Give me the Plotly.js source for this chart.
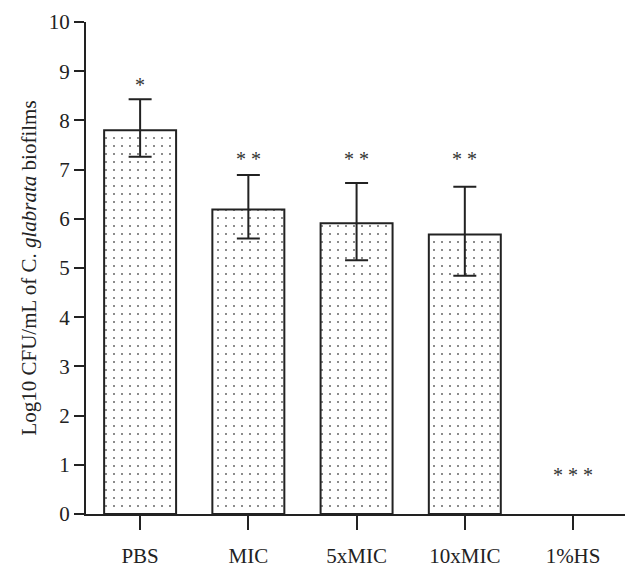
<!DOCTYPE html>
<html>
<head>
<meta charset="utf-8">
<script src="https://cdn.plot.ly/plotly-3.0.1.min.js"></script>
<style>
  html, body { margin: 0; padding: 0; background: #ffffff; }
  #chart { width: 639px; height: 570px; }
</style>
</head>
<body>
<div id="chart"></div>
<script>
const groups = ["PBS", "MIC", "5xMIC", "10xMIC", "1%HS"];
// 1%HS: no growth, no bar drawn
const meanLog = [7.80, 6.19, 5.91, 5.68, null];
const upperLog = [8.43, 6.89, 6.73, 6.65, null];
const lowerLog = [7.26, 5.60, 5.16, 4.84, null];
const starLabels = ["*", "* *", "* *", "* *", "* * *"];
const starHeight = [8.72, 7.22, 7.22, 7.22, 0.79];

const errPlus = meanLog.map((m, i) => (upperLog[i] === null ? null : upperLog[i] - m));
const errMinus = meanLog.map((m, i) => (lowerLog[i] === null ? null : m - lowerLog[i]));

const ink = "#222222";
const serif = "Liberation Serif, Times New Roman, serif";
const font = { family: serif, size: 21, color: ink };

Plotly.newPlot(
  "chart",
  [
    {
      type: "bar",
      x: groups,
      y: meanLog,
      width: 0.665,
      marker: {
        color: "#ffffff",
        line: { color: ink, width: 2 },
        pattern: { shape: ".", size: 8, solidity: 0.05, fgcolor: "#666666", bgcolor: "#ffffff" },
      },
      error_y: {
        type: "data",
        symmetric: false,
        array: errPlus,
        arrayminus: errMinus,
        color: ink,
        thickness: 2,
        width: 11.5,
      },
      hoverinfo: "skip",
    },
  ],
  {
    width: 639,
    height: 570,
    margin: { l: 86, r: 14, t: 22, b: 56 },
    paper_bgcolor: "#ffffff",
    plot_bgcolor: "#ffffff",
    font,
    showlegend: false,
    xaxis: {
      type: "category",
      categoryorder: "array",
      categoryarray: groups,
      range: [-0.5, 4.48],
      showline: true,
      linecolor: ink,
      linewidth: 2,
      ticks: "outside",
      ticklen: 14,
      tickwidth: 2,
      tickcolor: ink,
      ticklabelstandoff: 8,
      showgrid: false,
      zeroline: false,
      tickfont: font,
      fixedrange: true,
    },
    yaxis: {
      range: [0, 10],
      dtick: 1,
      tick0: 0,
      showline: true,
      linecolor: ink,
      linewidth: 2,
      ticks: "outside",
      ticklen: 10,
      tickwidth: 2,
      tickcolor: ink,
      showgrid: false,
      zeroline: false,
      tickfont: font,
      title: {
        text: "Log10 CFU/mL of C. <i>glabrata</i> biofilms",
        font: { family: serif, size: 21, color: ink },
        standoff: 6,
      },
      fixedrange: true,
    },
    annotations: groups.map((g, i) => ({
      x: g,
      y: starHeight[i],
      text: starLabels[i],
      showarrow: false,
      yanchor: "middle",
      font: { family: serif, size: 20, color: "#333333" },
    })),
  },
  { displayModeBar: false, staticPlot: true }
);
</script>
</body>
</html>
